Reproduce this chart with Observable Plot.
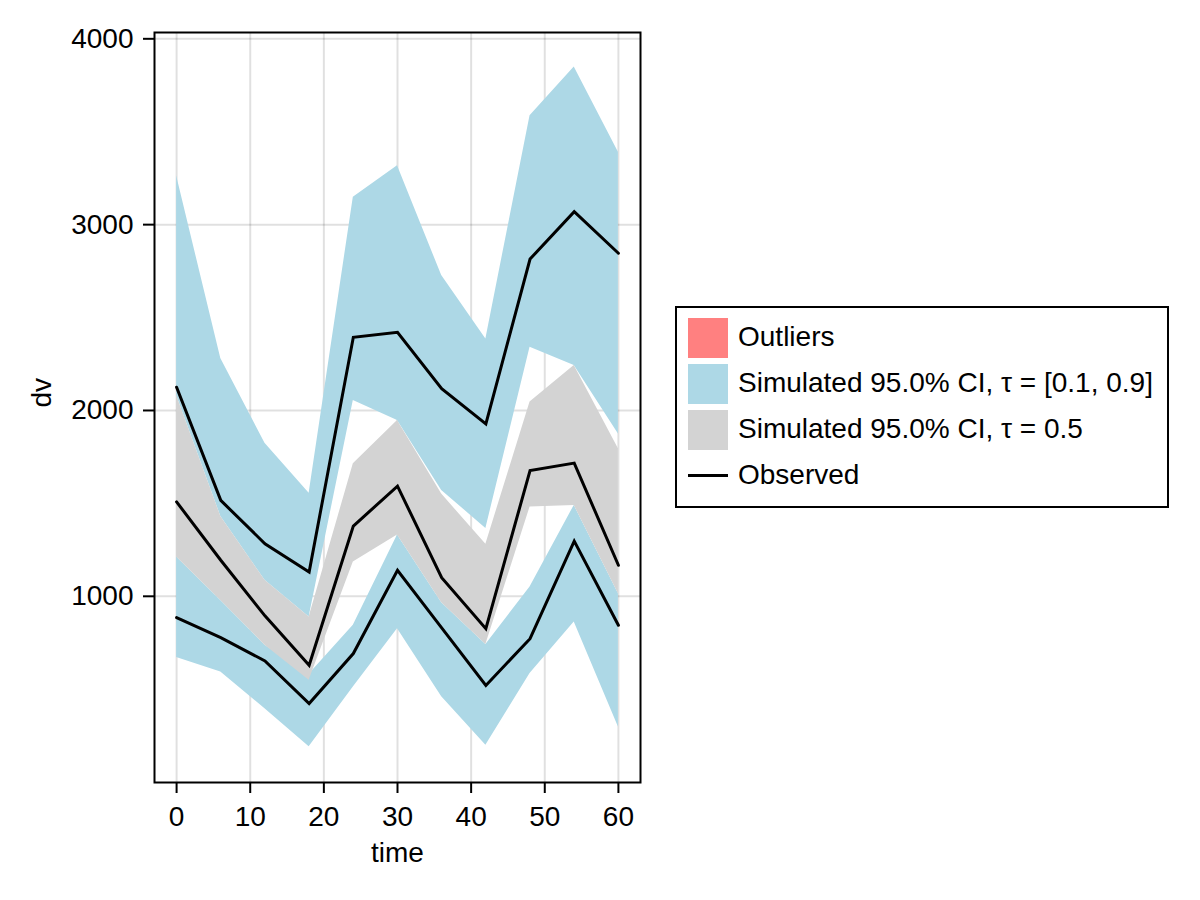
<!DOCTYPE html>
<html>
<head>
<meta charset="utf-8">
<script src="https://cdn.jsdelivr.net/npm/d3@7"></script>
<script src="https://cdn.jsdelivr.net/npm/@observablehq/plot@0.6"></script>
<style>
  body { margin: 0; background: #fff; }
  #wrap { position: relative; width: 1200px; height: 900px; font-family: "Liberation Sans", Arial, sans-serif; }
  #legend { position: absolute; left: 675px; top: 306px; width: 494px; height: 202px; border: 2px solid #000; box-sizing: border-box; background: #fff; }
  .sw { position: absolute; left: 11px; width: 40px; height: 40px; }
  .ln { position: absolute; left: 11px; width: 40px; height: 3px; background: #000; }
  .lbl { position: absolute; left: 61px; height: 40px; font-size: 28px; line-height: 40px; white-space: nowrap; color: #000; }
</style>
</head>
<body>
<div id="wrap"></div>
<script>
// ---- data ----
const times = [0, 6, 12, 18, 24, 30, 36, 42, 48, 54, 60];

// Simulated 95% CI of the 0.9 quantile
const upperCIHigh = [3263, 2280, 1823, 1555, 3147, 3317, 2726, 2385, 3586, 3849, 3389];
const upperCILow  = [2080, 1430, 1086, 889, 2054, 1946, 1570, 1365, 2340, 2242, 1874];

// Simulated 95% CI of the 0.5 quantile
const medianCIHigh = [2080, 1430, 1086, 889, 1713, 1946, 1550, 1280, 2045, 2242, 1794];
const medianCILow  = [1211, 978, 737, 548, 1184, 1330, 965, 740, 1480, 1489, 1014];

// Simulated 95% CI of the 0.1 quantile
const lowerCIHigh = [1211, 978, 737, 580, 844, 1330, 965, 740, 1050, 1489, 1014];
const lowerCILow  = [670, 593, 395, 190, 512, 826, 459, 199, 584, 862, 297];

// Observed quantiles
const obsUpper  = [2125, 1516, 1283, 1131, 2394, 2421, 2117, 1928, 2815, 3070, 2846];
const obsMedian = [1508, 1194, 895, 629, 1378, 1593, 1100, 826, 1677, 1717, 1167];
const obsLower  = [885, 778, 652, 423, 692, 1140, 830, 520, 772, 1297, 844];

const xTicks = [0, 10, 20, 30, 40, 50, 60];
const yTicks = [1000, 2000, 3000, 4000];

const legendItems = [
  {label: "Outliers", kind: "patch", color: "#ff8080"},
  {label: "Simulated 95.0% CI, τ = [0.1, 0.9]", kind: "patch", color: "#add8e6"},
  {label: "Simulated 95.0% CI, τ = 0.5", kind: "patch", color: "#d3d3d3"},
  {label: "Observed", kind: "line", color: "#000000"}
];

const rows = times.map((t, i) => ({
  time: t,
  upHi: upperCIHigh[i], upLo: upperCILow[i],
  medHi: medianCIHigh[i], medLo: medianCILow[i],
  lowHi: lowerCIHigh[i], lowLo: lowerCILow[i],
  oU: obsUpper[i], oM: obsMedian[i], oL: obsLower[i]
}));

const FONT = "Liberation Sans, Arial, sans-serif";
const gridStyle = {stroke: "#000", strokeOpacity: 0.12, strokeWidth: 2};
const lineStyle = {stroke: "#000", strokeWidth: 3, strokeLinejoin: "miter", strokeMiterlimit: 10};

const chart = Plot.plot({
  width: 1200,
  height: 900,
  marginLeft: 154,
  marginRight: 560,
  marginTop: 32,
  marginBottom: 118,
  style: {fontFamily: FONT, fontSize: "28px", background: "white", color: "black", overflow: "visible"},
  x: {domain: [-3, 63]},
  y: {domain: [-2, 4034]},
  marks: [
    Plot.gridX(xTicks, gridStyle),
    Plot.gridY(yTicks, gridStyle),
    Plot.areaY(rows, {x: "time", y1: "upLo", y2: "upHi", fill: "#add8e6"}),
    Plot.areaY(rows, {x: "time", y1: "lowLo", y2: "lowHi", fill: "#add8e6"}),
    Plot.areaY(rows, {x: "time", y1: "medLo", y2: "medHi", fill: "#d3d3d3"}),
    Plot.lineY(rows, {x: "time", y: "oL", ...lineStyle}),
    Plot.lineY(rows, {x: "time", y: "oM", ...lineStyle}),
    Plot.lineY(rows, {x: "time", y: "oU", ...lineStyle}),
    Plot.axisX(xTicks, {tickSize: 11, tickPadding: 13, strokeWidth: 2, label: null, fontSize: 28, fill: "#000"}),
    Plot.axisY(yTicks, {tickSize: 11, tickPadding: 10, strokeWidth: 2, label: null, fontSize: 28, fill: "#000", tickFormat: d => String(d)}),
    Plot.frame({stroke: "#000", strokeWidth: 2}),
    Plot.text(["time"], {frameAnchor: "bottom", dy: 71, lineAnchor: "middle", fontSize: 28, fill: "#000", text: d => d}),
    Plot.text(["dv"], {frameAnchor: "left", dx: -112, rotate: -90, lineAnchor: "middle", fontSize: 28, fill: "#000", text: d => d})
  ]
});

const wrap = document.getElementById("wrap");
wrap.appendChild(chart);

const legend = document.createElement("div");
legend.id = "legend";
legendItems.forEach((it, i) => {
  const top = 10 + i * 46;
  if (it.kind === "patch") {
    const s = document.createElement("div");
    s.className = "sw";
    s.style.top = top + "px";
    s.style.background = it.color;
    legend.appendChild(s);
  } else {
    const l = document.createElement("div");
    l.className = "ln";
    l.style.top = (top + 19 - 1) + "px";
    l.style.background = it.color;
    legend.appendChild(l);
  }
  const t = document.createElement("div");
  t.className = "lbl";
  t.style.top = (top - 1) + "px";
  t.textContent = it.label;
  legend.appendChild(t);
});
wrap.appendChild(legend);
</script>
</body>
</html>
